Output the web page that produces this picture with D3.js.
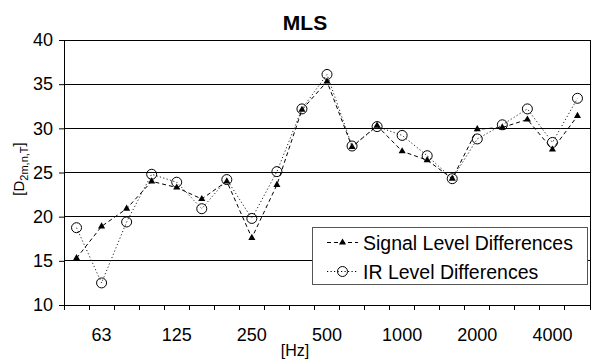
<!DOCTYPE html>
<html><head><meta charset="utf-8">
<script src="https://cdn.jsdelivr.net/npm/d3@7"></script>
<style>
body{margin:0;background:#fff;}
svg{display:block;font-family:"Liberation Sans",Arial,sans-serif;}
</style></head>
<body><svg id="c" width="594" height="359"></svg>
<script>
const categories = ["50","63","80","100","125","160","200","250","315","400","500","630","800","1000","1250","1600","2000","2500","3150","4000","5000"];
const signalValues = [15.3,18.9,20.9,24.0,23.3,22.0,24.0,17.6,23.6,32.1,35.3,27.9,30.3,27.4,26.4,24.3,29.9,30.1,31.0,27.6,31.4];
const irValues = [18.75,12.5,19.4,24.8,23.9,20.9,24.2,19.8,25.1,32.2,36.1,28.0,30.2,29.2,26.9,24.3,28.8,30.4,32.2,28.4,33.4];
const xTickLabels = ["63","125","250","500","1000","2000","4000"];
const yTicks = [10,15,20,25,30,35,40];
const seriesNames = ["Signal Level Differences","IR Level Differences"];
const title = "MLS";

const svg = d3.select("#c");
const L=64, R=590, T=40, B=305;
const x = d3.scaleBand().domain(categories).range([L,R]).padding(0);
const y = d3.scaleLinear().domain([10,40]).range([B,T]);
const cx = c => x(c) + x.bandwidth()/2;

// gridlines
svg.append("g").selectAll("line").data(yTicks.filter(v=>v>10)).join("line")
  .attr("x1",L).attr("x2",R).attr("y1",d=>y(d)).attr("y2",d=>y(d))
  .attr("stroke","#000").attr("stroke-width",1).attr("shape-rendering","crispEdges");
// right border
svg.append("line").attr("x1",R).attr("x2",R).attr("y1",T).attr("y2",B)
  .attr("stroke","#000").attr("shape-rendering","crispEdges");

// y axis
const yAxis = d3.axisLeft(y).tickValues(yTicks).tickSize(5).tickPadding(6).tickSizeOuter(0);
const gy = svg.append("g").attr("transform",`translate(${L},0)`).call(yAxis);
gy.select(".domain").attr("stroke","#000");
gy.selectAll("line").attr("stroke","#000");
gy.selectAll("text").attr("font-size",18).attr("font-family","Liberation Sans, Arial").attr("fill","#000");

// x axis line and ticks at band boundaries
svg.append("line").attr("x1",L).attr("x2",R).attr("y1",B).attr("y2",B).attr("stroke","#000").attr("shape-rendering","crispEdges");
const bounds = categories.map(c=>x(c)).concat([R]);
svg.append("g").selectAll("line").data(bounds).join("line")
  .attr("x1",d=>d).attr("x2",d=>d).attr("y1",B).attr("y2",B+5)
  .attr("stroke","#000").attr("shape-rendering","crispEdges");
svg.append("g").selectAll("text").data(xTickLabels).join("text")
  .attr("x",d=>cx(d)).attr("y",341).attr("text-anchor","middle")
  .attr("font-size",18).text(d=>d);

// axis titles
svg.append("text").attr("x",295).attr("y",356).attr("text-anchor","middle").attr("font-size",16).text("[Hz]");
const yl = svg.append("text").attr("transform","translate(24,169) rotate(-90)").attr("text-anchor","middle").attr("font-size",15);
yl.append("tspan").text("[D");
yl.append("tspan").attr("font-size",11).attr("dy",4).text("2m,n,T");
yl.append("tspan").attr("dy",-4).text("]");

// title
svg.append("text").attr("x",305).attr("y",30).attr("text-anchor","middle").attr("font-size",21).attr("font-weight","bold").text(title);

// series
const line = d3.line().x((d,i)=>cx(categories[i])).y(d=>y(d));
svg.append("path").datum(signalValues).attr("d",line).attr("fill","none")
  .attr("stroke","#000").attr("stroke-width",1).attr("stroke-dasharray","4,3");
svg.append("g").selectAll("path").data(signalValues).join("path")
  .attr("d",d3.symbol(d3.symbolTriangle,22)())
  .attr("transform",(d,i)=>`translate(${cx(categories[i])},${y(d)})`).attr("fill","#000");
svg.append("path").datum(irValues).attr("d",line).attr("fill","none")
  .attr("stroke","#222").attr("stroke-width",1).attr("stroke-dasharray","1.2,2.3");
svg.append("g").selectAll("circle").data(irValues).join("circle")
  .attr("cx",(d,i)=>cx(categories[i])).attr("cy",d=>y(d)).attr("r",5)
  .attr("fill","none").attr("stroke","#000").attr("stroke-width",1);

// legend
const lg = svg.append("g");
lg.append("rect").attr("x",312.5).attr("y",227.5).attr("width",275).attr("height",57)
  .attr("fill","#fff").attr("stroke","#555").attr("stroke-width",1);
const rows=[{y:242.5,dash:"4,3",sym:"tri",name:seriesNames[0]},{y:271.5,dash:"1.2,2.3",sym:"circ",name:seriesNames[1]}];
rows.forEach(r=>{
  lg.append("line").attr("x1",327).attr("x2",358).attr("y1",r.y).attr("y2",r.y)
    .attr("stroke","#000").attr("stroke-dasharray",r.dash);
  if(r.sym==="tri") lg.append("path").attr("d",d3.symbol(d3.symbolTriangle,22)()).attr("transform",`translate(342.5,${r.y})`).attr("fill","#000");
  else lg.append("circle").attr("cx",342.5).attr("cy",r.y).attr("r",5).attr("fill","none").attr("stroke","#000");
  lg.append("text").attr("x",363).attr("y",r.y+7).attr("font-size",19.5).text(r.name);
});
</script></body></html>
